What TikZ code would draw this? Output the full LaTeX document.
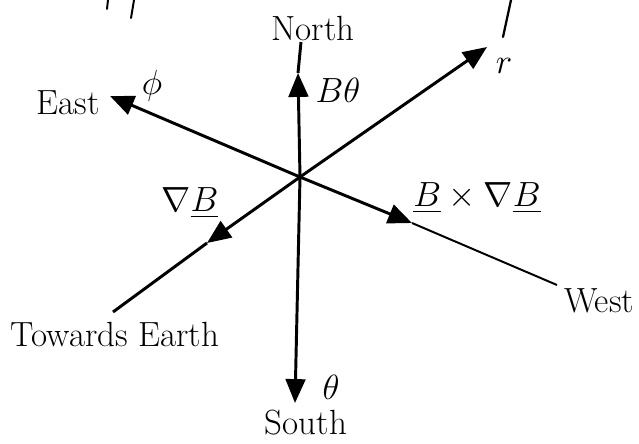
\documentclass[tikz,border=0pt]{standalone}
\usepackage{fontspec}
\usepackage{amsmath}
\usetikzlibrary{arrows.meta}

\tikzset{
  axis/.style={line width=2.1pt},
  thin axis/.style={line width=1.4pt},
  tip/.style={-{Triangle[length=17pt,width=14pt]}},
  lbl/.style={font=\fontsize{24.88}{28}\selectfont, inner sep=0pt},
}

\begin{document}
\begin{tikzpicture}[x=0.025cm, y=-0.025cm]
    \useasboundingbox (0,0) rectangle (639,443);

    % centre and line ends
    \coordinate (O) at (300,177);
    \coordinate (N) at (301,42);
    \coordinate (S) at (295,403);
    \coordinate (E) at (110,96);
    \coordinate (W) at (557,285);
    \coordinate (R) at (487,47);
    \coordinate (T) at (113,312);

    % arrow tips along the lines
    \coordinate (Bth) at (298,73);
    \coordinate (DB) at (207,243);
    \coordinate (BxDB) at (412,223);

    % north - south
    \draw[axis, tip] (O) -- (Bth);
    \draw[axis] (Bth) -- (N);
    \draw[axis, tip] (O) -- (S);

    % east - west
    \draw[axis, tip] (O) -- (E);
    \draw[axis, tip] (O) -- (BxDB);
    \draw[thin axis] (BxDB) -- (W);

    % r - towards earth
    \draw[axis, tip] (O) -- (R);
    \draw[axis, tip] (O) -- (DB);
    \draw[axis] (DB) -- (T);

    % labels
    \node[lbl] (north) at (313,28) {North};
    \node[lbl] (south) at (306,423) {South};
    \node[lbl] (east) at (68,103) {East};
    \node[lbl] (west) at (599,301) {West};
    \node[lbl] (earth) at (115,334) {Towards Earth};
    \node[lbl] (phi) at (152,86) {$\phi$};
    \node[lbl] (bth) at (338,90) {$B\theta$};
    \node[lbl] (theta) at (331,387) {$\theta$};
    \node[lbl] (r) at (504,66) {$r$};
    \node[lbl] (dbl) at (190,203) {$\nabla\underline{B}$};
    \node[lbl] (bxdb) at (477,198) {$\underline{B}\times\nabla\underline{B}$};

    % cut-off strokes at the top edge
    \draw[line width=1.4pt, line cap=round] (108,0) -- (107,9);
    \draw[line width=1.4pt, line cap=round] (134,0) -- (131,18);
    \draw[line width=1.6pt, line cap=round] (511,0) -- (503,37);
\end{tikzpicture}
\end{document}
